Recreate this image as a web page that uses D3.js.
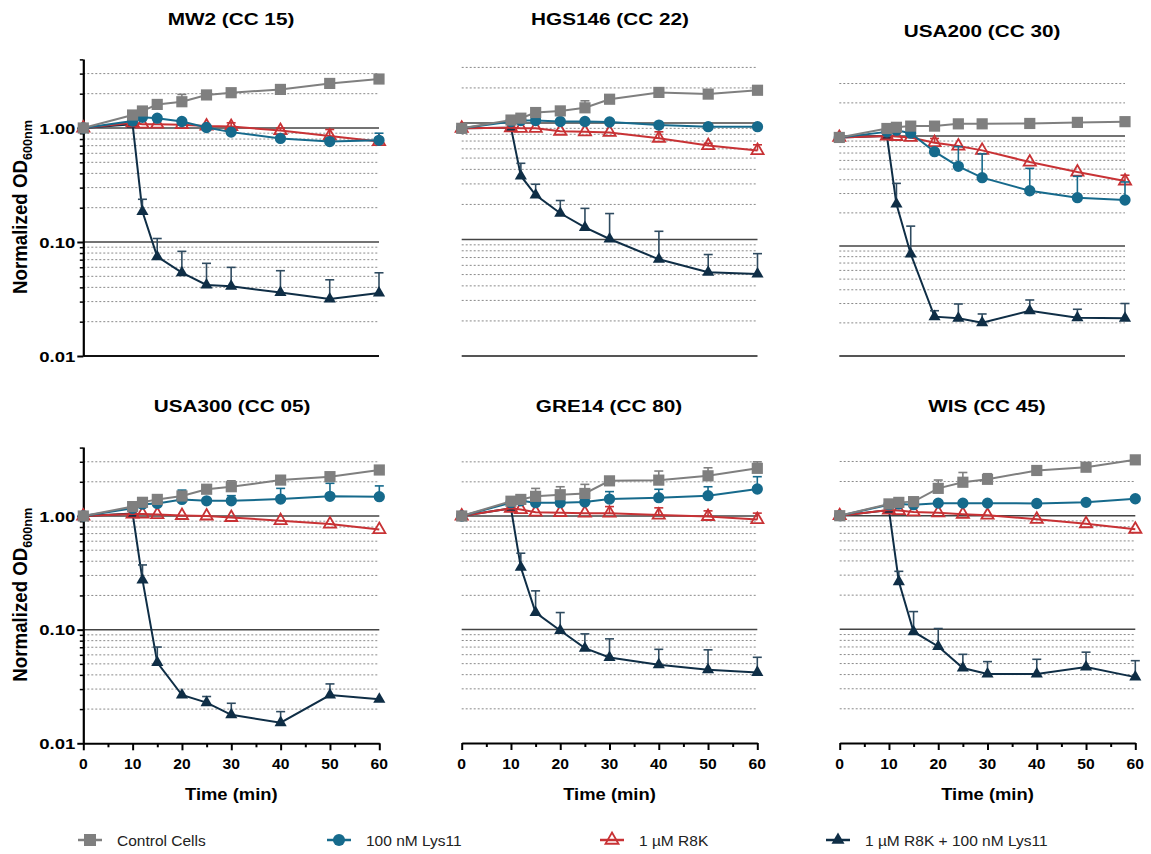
<!DOCTYPE html>
<html>
<head>
<meta charset="utf-8">
<script src="https://cdn.jsdelivr.net/npm/d3@7"></script>
<style>
  html, body { margin: 0; padding: 0; background: #ffffff; }
  svg { display: block; }
  text { font-family: Arial, "Liberation Sans", Helvetica, sans-serif; }
</style>
</head>
<body>
<script>
// ---------------- DATA ----------------
const times = [0, 10, 12, 15, 20, 25, 30, 40, 50, 60];
const strains = ["MW2 (CC 15)", "HGS146 (CC 22)", "USA200 (CC 30)", "USA300 (CC 05)", "GRE14 (CC 80)", "WIS (CC 45)"];
const seriesNames = ["Control Cells", "100 nM Lys11", "1 µM R8K", "1 µM R8K + 100 nM Lys11"];
const xTicks = [0, 10, 20, 30, 40, 50, 60];
const xMinorTicks = [5, 15, 25, 35, 45, 55];
const yMajorTicks = [1, 0.1, 0.01];
const yTickLabels = ["1.00", "0.10", "0.01"];
const yMinorTicks = [4, 3, 2, 0.9, 0.8, 0.7, 0.6, 0.5, 0.4, 0.3, 0.2, 0.09, 0.08, 0.07, 0.06, 0.05, 0.04, 0.03, 0.02];
const gridMinor = [3, 2, 0.9, 0.8, 0.7, 0.6, 0.5, 0.4, 0.3, 0.2, 0.09, 0.08, 0.07, 0.06, 0.05, 0.04, 0.03, 0.02];

// Control Cells (mean, upper SD) per strain
const controlMean = [
  [1.00, 1.30, 1.41, 1.61, 1.70, 1.95, 2.04, 2.18, 2.46, 2.69],
  [0.90, 1.06, 1.10, 1.23, 1.27, 1.35, 1.60, 1.83, 1.77, 1.91],
  [0.97, 1.17, 1.20, 1.23, 1.23, 1.29, 1.29, 1.30, 1.33, 1.35],
  [1.00, 1.21, 1.32, 1.40, 1.50, 1.72, 1.81, 2.07, 2.22, 2.54],
  [1.00, 1.35, 1.40, 1.49, 1.54, 1.58, 2.04, 2.07, 2.26, 2.63],
  [1.00, 1.27, 1.31, 1.33, 1.74, 1.97, 2.09, 2.50, 2.67, 3.10]
];
const controlSD = [
  [0, 0, 0, 0, 0.27, 0, 0, 0, 0, 0],
  [0, 0, 0, 0, 0, 0.20, 0, 0, 0, 0],
  [0, 0, 0, 0, 0, 0, 0, 0, 0, 0],
  [0, 0, 0, 0, 0.10, 0, 0.23, 0, 0, 0],
  [0, 0, 0, 0.26, 0.27, 0.32, 0, 0.42, 0.40, 0.37],
  [0, 0, 0, 0, 0.32, 0.43, 0.25, 0, 0, 0]
];
// 100 nM Lys11
const lysMean = [
  [1.00, 1.15, 1.24, 1.22, 1.14, 1.01, 0.92, 0.81, 0.76, 0.78],
  [0.90, 1.03, 1.05, 1.05, 1.03, 1.03, 1.02, 0.96, 0.93, 0.93],
  [0.97, 1.09, 1.13, 1.06, 0.72, 0.53, 0.418, 0.318, 0.275, 0.262],
  [1.00, 1.17, 1.27, 1.29, 1.40, 1.36, 1.36, 1.41, 1.49, 1.48],
  [1.00, 1.31, 1.36, 1.31, 1.31, 1.33, 1.41, 1.45, 1.51, 1.73],
  [1.00, 1.25, 1.27, 1.25, 1.29, 1.29, 1.29, 1.28, 1.31, 1.41]
];
const lysSD = [
  [0, 0, 0, 0, 0, 0, 0, 0, 0.05, 0.12],
  [0, 0, 0, 0, 0, 0, 0, 0, 0, 0],
  [0, 0, 0, 0, 0, 0.27, 0.27, 0.19, 0.155, 0.12],
  [0, 0, 0, 0, 0.29, 0, 0.15, 0.34, 0.45, 0.36],
  [0, 0, 0, 0, 0, 0, 0.23, 0.27, 0.30, 0.49],
  [0, 0, 0, 0, 0, 0, 0, 0, 0, 0]
];
// 1 µM R8K
const r8kMean = [
  [1.00, 1.11, 1.08, 1.08, 1.07, 1.04, 1.03, 0.95, 0.85, 0.76],
  [0.90, 0.91, 0.90, 0.90, 0.85, 0.84, 0.83, 0.74, 0.64, 0.58],
  [0.97, 1.00, 0.99, 0.97, 0.87, 0.81, 0.74, 0.58, 0.47, 0.39],
  [1.00, 1.04, 1.04, 1.03, 1.01, 1.00, 0.97, 0.91, 0.85, 0.76],
  [1.00, 1.17, 1.14, 1.08, 1.07, 1.06, 1.06, 1.02, 0.99, 0.93],
  [1.00, 1.12, 1.11, 1.08, 1.06, 1.03, 1.01, 0.93, 0.85, 0.76]
];
const r8kSD = [
  [0, 0, 0, 0, 0, 0, 0.08, 0.05, 0.12, 0.05],
  [0, 0, 0, 0, 0, 0, 0, 0.10, 0.03, 0.07],
  [0, 0, 0, 0, 0.08, 0, 0, 0, 0, 0.05],
  [0, 0, 0, 0, 0, 0, 0, 0, 0, 0],
  [0, 0, 0, 0, 0, 0, 0.15, 0.16, 0.12, 0.13],
  [0, 0, 0, 0, 0, 0, 0, 0, 0, 0]
];
// 1 µM R8K + 100 nM Lys11
const comboMean = [
  [1.00, 1.08, 0.185, 0.0743, 0.0538, 0.0420, 0.0409, 0.0360, 0.0316, 0.0357],
  [0.90, 0.91, 0.351, 0.241, 0.168, 0.127, 0.101, 0.0676, 0.0523, 0.0506],
  [0.97, 1.00, 0.241, 0.0846, 0.0228, 0.0220, 0.0201, 0.0258, 0.0223, 0.0220],
  [1.00, 1.05, 0.274, 0.0513, 0.0266, 0.0228, 0.0178, 0.0152, 0.0266, 0.0244],
  [1.00, 1.17, 0.353, 0.141, 0.098, 0.0685, 0.0567, 0.0489, 0.0442, 0.0419],
  [1.00, 1.12, 0.263, 0.0953, 0.0707, 0.0457, 0.0405, 0.0405, 0.0467, 0.0380]
];
const comboSD = [
  [0, 0, 0.052, 0.033, 0.029, 0.023, 0.019, 0.020, 0.015, 0.018],
  [0, 0, 0.100, 0.057, 0.048, 0.058, 0.066, 0.050, 0.022, 0.025],
  [0, 0, 0.130, 0.067, 0.003, 0.0077, 0.004, 0.0065, 0.0043, 0.008],
  [0, 0, 0.097, 0.019, 0, 0.003, 0.0047, 0.0038, 0.0067, 0],
  [0, 0, 0.117, 0.078, 0.043, 0.023, 0.026, 0.018, 0.022, 0.015],
  [0, 0, 0.061, 0.048, 0.031, 0.0146, 0.0115, 0.014, 0.0163, 0.015]
];

// ---------------- LAYOUT / STYLE ----------------
const W = 1151, H = 854;
const layout = [
  { x0: 83.3, x1: 379, y1: 128, y2: 356, top: 59, tx: 231, ty: 25, yAxis: true, xAxis: false, base: "#111" },
  { x0: 461.7, x1: 757.5, y1: 123, y2: 356, tx: 610, ty: 25, yAxis: false, xAxis: false, base: "#555" },
  { x0: 839.3, x1: 1125, y1: 136, y2: 356, tx: 982, ty: 37, yAxis: false, xAxis: false, base: "#555" },
  { x0: 83.3, x1: 379.3, y1: 516, y2: 743.3, top: 447, tx: 232, ty: 412, yAxis: true, xAxis: true },
  { x0: 461.7, x1: 757.3, y1: 516, y2: 743, tx: 609, ty: 412, yAxis: false, xAxis: true },
  { x0: 839.7, x1: 1135.3, y1: 515.7, y2: 743, tx: 987, ty: 412, yAxis: false, xAxis: true }
];

const styles = [
  { name: seriesNames[0], mean: controlMean, sd: controlSD, color: "#7f7f7f", err: "#7f7f7f", sym: d3.symbolSquare, size: 125, fill: "#7f7f7f" },
  { name: seriesNames[1], mean: lysMean, sd: lysSD, color: "#166a8c", err: "#166a8c", sym: d3.symbolCircle, size: 100, fill: "#166a8c" },
  { name: seriesNames[2], mean: r8kMean, sd: r8kSD, color: "#c83235", err: "#c83235", sym: d3.symbolTriangle, size: 64, fill: "none" },
  { name: seriesNames[3], mean: comboMean, sd: comboSD, color: "#0f2e46", err: "#2f4b60", sym: d3.symbolTriangle, size: 64, fill: "#0f2e46" }
];
const drawOrder = [3, 2, 1, 0];

const svg = d3.select("body").append("svg").attr("width", W).attr("height", H);
svg.append("rect").attr("width", W).attr("height", H).attr("fill", "#fff");

function stext(g, x, y, str, o) {
  return g.append("text")
    .attr("transform", `translate(${x},${y}) ${o.rot ? "rotate(" + o.rot + ")" : ""} scale(${o.sx || 1},${o.sy || 1})`)
    .attr("text-anchor", o.anchor || "middle")
    .attr("font-size", o.size)
    .attr("font-weight", o.weight || "bold")
    .attr("fill", o.fill || "#000")
    .text(str);
}

layout.forEach((L, i) => {
  const g = svg.append("g");
  const x = d3.scaleLinear().domain([0, 60]).range([L.x0, L.x1]);
  const y = d3.scaleLog().domain([0.01, 1]).range([L.y2, L.y1]);

  // minor dotted grid
  g.selectAll("line.gm").data(gridMinor).join("line")
    .attr("x1", L.x0).attr("x2", L.x1)
    .attr("y1", d => y(d)).attr("y2", d => y(d))
    .attr("stroke", "#8a8a8a").attr("stroke-width", 1).attr("stroke-dasharray", "2,2");
  // major solid grid
  g.selectAll("line.gM").data([1, 0.1]).join("line")
    .attr("x1", L.x0).attr("x2", L.x1)
    .attr("y1", d => y(d)).attr("y2", d => y(d))
    .attr("stroke", "#444").attr("stroke-width", 1.5);

  if (!L.xAxis) {
    g.append("line").attr("x1", L.x0).attr("x2", L.x1)
      .attr("y1", y(0.01)).attr("y2", y(0.01))
      .attr("stroke", L.base).attr("stroke-width", 2);
  } else {
    const ax = g.append("g").attr("transform", `translate(0,${y(0.01)})`)
      .call(d3.axisBottom(x).tickValues(xTicks).tickSize(7).tickSizeOuter(0).tickFormat(""));
    ax.select(".domain").attr("stroke", "#000").attr("stroke-width", 2);
    ax.selectAll(".tick line").attr("stroke", "#000").attr("stroke-width", 2);
    const axm = g.append("g").attr("transform", `translate(0,${y(0.01)})`)
      .call(d3.axisBottom(x).tickValues(xMinorTicks).tickSize(4).tickSizeOuter(0).tickFormat(""));
    axm.select(".domain").remove();
    axm.selectAll(".tick line").attr("stroke", "#000").attr("stroke-width", 2);
    xTicks.forEach(t => stext(g, x(t), y(0.01) + 26, String(t), { size: 14, sx: 1.12 }));
    stext(g, (L.x0 + L.x1) / 2, y(0.01) + 57, "Time (min)", { size: 16, sx: 1.15 });
  }

  if (L.yAxis) {
    const yA = y.copy().domain([0.01, y.invert(L.top)]).range([L.y2, L.top]);
    const ay = g.append("g").attr("transform", `translate(${L.x0},0)`)
      .call(d3.axisLeft(yA).tickValues(yMajorTicks).tickSize(6).tickSizeOuter(0).tickFormat(""));
    ay.select(".domain").attr("stroke", "#000").attr("stroke-width", 2.2);
    ay.selectAll(".tick line").attr("stroke", "#000").attr("stroke-width", 2);
    const aym = g.append("g").attr("transform", `translate(${L.x0},0)`)
      .call(d3.axisLeft(yA).tickValues(yMinorTicks).tickSize(3.5).tickSizeOuter(0).tickFormat(""));
    aym.select(".domain").remove();
    aym.selectAll(".tick line").attr("stroke", "#000").attr("stroke-width", 1.5);
    yMajorTicks.forEach((v, k) => stext(g, L.x0 - 8, y(v) + 5.5, yTickLabels[k], { size: 14.5, sx: 1.28, anchor: "end" }));
    // y label
    const lab = g.append("text")
      .attr("transform", `translate(27,${(L.y1 + L.y2) / 2 - 35}) rotate(-90) scale(1.1,1.15)`)
      .attr("text-anchor", "middle").attr("font-size", 17).attr("font-weight", "bold").attr("fill", "#000");
    lab.append("tspan").text("Normalized OD");
    lab.append("tspan").attr("font-size", 11.5).attr("dy", 4).text("600nm");
  }

  // title
  stext(g, L.tx, L.ty, strains[i], { size: 17, sx: 1.22 });

  // series
  drawOrder.forEach(si => {
    const s = styles[si];
    const mean = s.mean[i], sd = s.sd[i];
    const pts = times.map((t, j) => ({ t, v: mean[j], e: sd[j] }));
    g.append("path").datum(pts)
      .attr("d", d3.line().x(d => x(d.t)).y(d => y(d.v)))
      .attr("fill", "none").attr("stroke", s.color).attr("stroke-width", 2);
    const eb = pts.filter(d => d.e > 0);
    g.selectAll(null).data(eb).join("line")
      .attr("x1", d => x(d.t)).attr("x2", d => x(d.t))
      .attr("y1", d => y(d.v)).attr("y2", d => y(d.v + d.e))
      .attr("stroke", s.err).attr("stroke-width", 1.6);
    g.selectAll(null).data(eb).join("line")
      .attr("x1", d => x(d.t) - 4.5).attr("x2", d => x(d.t) + 4.5)
      .attr("y1", d => y(d.v + d.e)).attr("y2", d => y(d.v + d.e))
      .attr("stroke", s.err).attr("stroke-width", 1.6);
    const sym = d3.symbol().type(s.sym).size(s.size);
    g.selectAll(null).data(pts).join("path")
      .attr("transform", d => `translate(${x(d.t)},${y(d.v)})`)
      .attr("d", sym)
      .attr("fill", s.fill)
      .attr("stroke", s.color)
      .attr("stroke-width", s.fill === "none" ? 1.8 : 0);
  });
});

// legend
const legendX = [90, 339, 612, 838];
const lg = svg.append("g");
styles.forEach((s, k) => {
  const cx = legendX[k], cy = 840;
  lg.append("line").attr("x1", cx - 12).attr("x2", cx + 12).attr("y1", cy).attr("y2", cy)
    .attr("stroke", s.color).attr("stroke-width", 2.5);
  lg.append("path").attr("transform", `translate(${cx},${cy})`)
    .attr("d", d3.symbol().type(s.sym).size(s.size * 1.15))
    .attr("fill", s.fill).attr("stroke", s.color).attr("stroke-width", s.fill === "none" ? 1.8 : 0);
  lg.append("text").attr("x", cx + 27).attr("y", cy + 5.5)
    .attr("font-size", 15.5).attr("fill", "#222").text(s.name);
});
</script>
</body>
</html>
